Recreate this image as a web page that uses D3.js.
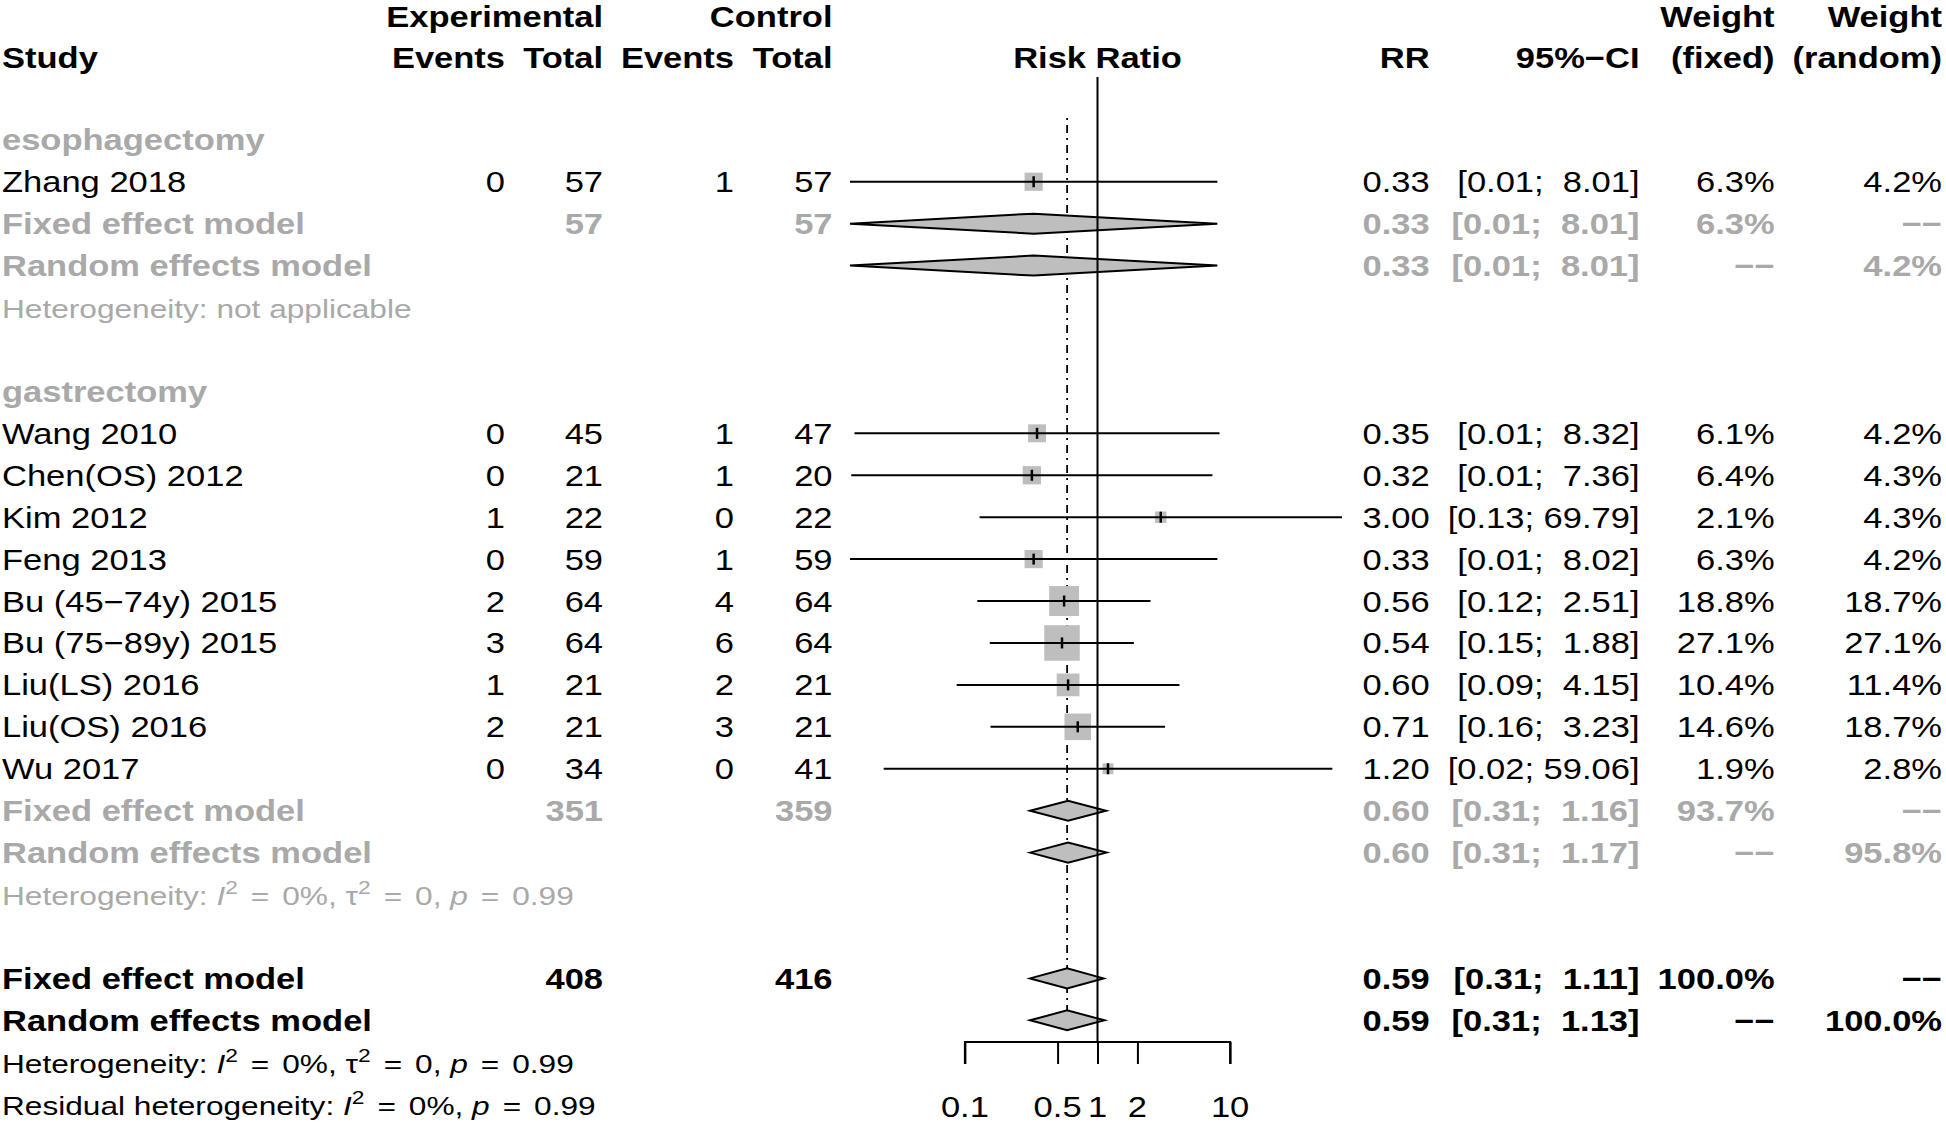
<!DOCTYPE html>
<html><head><meta charset="utf-8">
<script src="https://cdn.jsdelivr.net/npm/d3@7"></script>
<style>
html,body{margin:0;padding:0;background:#fff;}
svg text{font-family:"Liberation Sans",Arial,Helvetica,sans-serif;white-space:pre;}
</style></head>
<body>
<svg id="chart" width="1946" height="1127"></svg>
<script>
// ---------------- data ----------------
const subgroups = ["esophagectomy", "gastrectomy"];
const studyGroup = [0, 1, 1, 1, 1, 1, 1, 1, 1, 1];
const studies = ["Zhang 2018", "Wang 2010", "Chen(OS) 2012", "Kim 2012", "Feng 2013",
  "Bu (45\u221274y) 2015", "Bu (75\u221289y) 2015", "Liu(LS) 2016", "Liu(OS) 2016", "Wu 2017"];
const expEvents = [0, 0, 0, 1, 0, 2, 3, 1, 2, 0];
const expTotal = [57, 45, 21, 22, 59, 64, 64, 21, 21, 34];
const ctrlEvents = [1, 1, 1, 0, 1, 4, 6, 2, 3, 0];
const ctrlTotal = [57, 47, 20, 22, 59, 64, 64, 21, 21, 41];
const rr = [0.33, 0.35, 0.32, 3.00, 0.33, 0.56, 0.54, 0.60, 0.71, 1.20];
const ciLower = [0.0136, 0.0147, 0.0139, 0.129, 0.0136, 0.124, 0.154, 0.0867, 0.156, 0.0244];
const ciUpper = [8.01, 8.32, 7.36, 69.79, 8.02, 2.51, 1.88, 4.15, 3.23, 59.06];
const weightFixed = [6.3, 6.1, 6.4, 2.1, 6.3, 18.8, 27.1, 10.4, 14.6, 1.9];
const weightRandom = [4.2, 4.2, 4.3, 4.3, 4.2, 18.7, 27.1, 11.4, 18.7, 2.8];

// subgroup pooled results
const subExpTotal = [57, 351];
const subCtrlTotal = [57, 359];
const subFixedRR = [0.33, 0.60];
const subFixedLower = [0.0136, 0.31];
const subFixedUpper = [8.01, 1.16];
const subFixedWeight = [6.3, 93.7];
const subRandomRR = [0.33, 0.60];
const subRandomLower = [0.0136, 0.31];
const subRandomUpper = [8.01, 1.17];
const subRandomWeight = [4.2, 95.8];
const subHetI2 = [null, "0%"];
const subHetTau2 = [null, "0"];
const subHetP = [null, "0.99"];

// overall results
const overallExpTotal = 408;
const overallCtrlTotal = 416;
const overallFixed = [0.59, 0.31, 1.11];   // RR, lower, upper
const overallRandom = [0.59, 0.31, 1.13];
const overallHet = ["0%", "0", "0.99"];    // I2, tau2, p
const residualHet = ["0%", "0.99"];        // I2, p

const axisTicks = [0.1, 0.5, 1, 2, 10];
const axisTickLabels = ["0.1", "0.5", "1", "2", "10"];

// ---------------- layout ----------------
const W = 1946, H = 1127;
const FS = 29, FSHET = 29 * 11 / 12, SX = 1.19;
const GREY = "#A9A9A9", BOXGREY = "#BEBEBE";
const DASH = "\u2212\u2212";
const svg = d3.select("#chart");
svg.append("rect").attr("width", W).attr("height", H).attr("fill", "#fff");

const x = d3.scaleLog().domain([0.1, 10]).range([964.9, 1230.1]);
const yRow = d3.scaleLinear().domain([0, 23]).range([139.8, 139.8 + 41.93 * 23]);
const base = i => yRow(i) + 10.5;
const boxSize = d3.scaleSqrt().domain([0, d3.max(weightFixed)]).range([0, 33.5]);

const col = { study: 2, expE: 505, expT: 603, ctrlE: 734, ctrlT: 832.5,
  rr: 1429.6, ci: 1639.5, wf: 1774.6, wr: 1942 };

function T(xp, yp, content, o = {}) {
  const fs = o.fs || FS;
  const t = svg.append("text")
    .attr("transform", `translate(${xp},${yp}) scale(${o.sx || SX},1)`)
    .attr("text-anchor", o.anchor || "end")
    .attr("font-size", fs)
    .attr("font-weight", o.bold ? "bold" : "normal")
    .attr("fill", o.color || "#000");
  if (typeof content === "string") { t.text(content); return t; }
  const supFs = fs * 0.72, rise = fs * 0.42;
  content.forEach(seg => {
    const s = t.append("tspan").text(seg.t);
    if (seg.it) s.attr("font-style", "italic");
    let dy = 0;
    if (seg.sup) { s.attr("font-size", supFs); dy -= rise; }
    if (seg.down) dy += rise;
    if (dy) s.attr("dy", dy);
    if (seg.dx) s.attr("dx", seg.dx);
  });
  return t;
}
const f2 = v => v.toFixed(2);
const ciText = (lo, hi) => `[${f2(lo)}; ${f2(hi).padStart(5, " ")}]`;
const pct = v => v.toFixed(1) + "%";

// plotmath-like spacing around "="
const EQ = 3.5;
function hetSegments(label, i2, tau2, p) {
  const segs = [{ t: label }, { t: "I", it: true }, { t: "2", sup: true },
    { t: " =", down: true, dx: EQ }, { t: " " + i2 + ", ", dx: EQ }];
  if (tau2 !== null) {
    segs.push({ t: "\u03C4" }, { t: "2", sup: true },
      { t: " =", down: true, dx: EQ }, { t: " " + tau2 + ", ", dx: EQ });
  }
  segs.push({ t: "p", it: true }, { t: " =", dx: EQ }, { t: " " + p, dx: EQ });
  return segs;
}

// ---------------- header ----------------
const hb1 = base(-3) + 2, hb2 = base(-2) + 2;
T(col.expT, hb1, "Experimental", { bold: true });
T(col.ctrlT, hb1, "Control", { bold: true });
T(col.wf, hb1, "Weight", { bold: true });
T(col.wr, hb1, "Weight", { bold: true });
T(col.study, hb2, "Study", { bold: true, anchor: "start" });
T(col.expE, hb2, "Events", { bold: true });
T(col.expT, hb2, "Total", { bold: true });
T(col.ctrlE, hb2, "Events", { bold: true });
T(col.ctrlT, hb2, "Total", { bold: true });
T(x(1), hb2, "Risk Ratio", { bold: true, anchor: "middle" });
T(col.rr, hb2, "RR", { bold: true });
T(col.ci, hb2, "95%\u2212CI", { bold: true });
T(col.wf, hb2, "(fixed)", { bold: true });
T(col.wr, hb2, "(random)", { bold: true });

// ---------------- rows ----------------
const gPlot = svg.append("g");
// fixed-effect estimate line (drawn below marks)
gPlot.append("line")
  .attr("x1", x(overallFixed[0])).attr("x2", x(overallFixed[0]))
  .attr("y1", 118).attr("y2", yRow(21))
  .attr("stroke", "#000").attr("stroke-width", 1.8)
  .attr("stroke-dasharray", "2,5,8,5");
const gMarks = svg.append("g");

function diamond(i, est, lo, hi) {
  const yc = yRow(i);
  gMarks.append("path")
    .attr("d", `M${x(lo)},${yc}L${x(est)},${yc - 10}L${x(hi)},${yc}L${x(est)},${yc + 10}Z`)
    .attr("fill", BOXGREY).attr("stroke", "#000").attr("stroke-width", 2)
    .attr("stroke-linejoin", "miter");
}

let row = 0;
subgroups.forEach((sg, g) => {
  T(col.study, base(row), sg, { bold: true, color: GREY, anchor: "start" });
  row++;
  studies.forEach((s, k) => {
    if (studyGroup[k] !== g) return;
    const b = base(row), yc = yRow(row);
    T(col.study, b, s, { anchor: "start" });
    T(col.expE, b, String(expEvents[k]));
    T(col.expT, b, String(expTotal[k]));
    T(col.ctrlE, b, String(ctrlEvents[k]));
    T(col.ctrlT, b, String(ctrlTotal[k]));
    T(col.rr, b, f2(rr[k]));
    T(col.ci, b, ciText(ciLower[k], ciUpper[k]));
    T(col.wf, b, pct(weightFixed[k]));
    T(col.wr, b, pct(weightRandom[k]));
    const sz = boxSize(weightFixed[k]) + 2;
    gMarks.append("rect").attr("x", x(rr[k]) - sz / 2).attr("y", yc - sz / 2)
      .attr("width", sz).attr("height", sz).attr("fill", BOXGREY);
    gMarks.append("line").attr("x1", x(ciLower[k])).attr("x2", x(ciUpper[k]))
      .attr("y1", yc).attr("y2", yc).attr("stroke", "#000").attr("stroke-width", 2);
    gMarks.append("line").attr("x1", x(rr[k])).attr("x2", x(rr[k]))
      .attr("y1", yc - 5.5).attr("y2", yc + 5.5).attr("stroke", "#000").attr("stroke-width", 2.5);
    row++;
  });
  // fixed
  let b = base(row);
  T(col.study, b, "Fixed effect model", { bold: true, color: GREY, anchor: "start" });
  T(col.expT, b, String(subExpTotal[g]), { bold: true, color: GREY });
  T(col.ctrlT, b, String(subCtrlTotal[g]), { bold: true, color: GREY });
  T(col.rr, b, f2(subFixedRR[g]), { bold: true, color: GREY });
  T(col.ci, b, ciText(subFixedLower[g], subFixedUpper[g]), { bold: true, color: GREY });
  T(col.wf, b, pct(subFixedWeight[g]), { bold: true, color: GREY });
  T(col.wr, b, DASH, { bold: true, color: GREY });
  diamond(row, subFixedRR[g], subFixedLower[g], subFixedUpper[g]);
  row++;
  b = base(row);
  T(col.study, b, "Random effects model", { bold: true, color: GREY, anchor: "start" });
  T(col.rr, b, f2(subRandomRR[g]), { bold: true, color: GREY });
  T(col.ci, b, ciText(subRandomLower[g], subRandomUpper[g]), { bold: true, color: GREY });
  T(col.wf, b, DASH, { bold: true, color: GREY });
  T(col.wr, b, pct(subRandomWeight[g]), { bold: true, color: GREY });
  diamond(row, subRandomRR[g], subRandomLower[g], subRandomUpper[g]);
  row++;
  b = base(row);
  if (subHetI2[g] === null) {
    T(col.study, b, "Heterogeneity: not applicable", { color: GREY, anchor: "start", fs: FSHET });
  } else {
    T(col.study, b, hetSegments("Heterogeneity: ", subHetI2[g], subHetTau2[g], subHetP[g]),
      { color: GREY, anchor: "start", fs: FSHET });
  }
  row += 2;
});

// overall
let b = base(row);
T(col.study, b, "Fixed effect model", { bold: true, anchor: "start" });
T(col.expT, b, String(overallExpTotal), { bold: true });
T(col.ctrlT, b, String(overallCtrlTotal), { bold: true });
T(col.rr, b, f2(overallFixed[0]), { bold: true });
T(col.ci, b, ciText(overallFixed[1], overallFixed[2]), { bold: true });
T(col.wf, b, "100.0%", { bold: true });
T(col.wr, b, DASH, { bold: true });
diamond(row, overallFixed[0], overallFixed[1], overallFixed[2]);
row++;
b = base(row);
T(col.study, b, "Random effects model", { bold: true, anchor: "start" });
T(col.rr, b, f2(overallRandom[0]), { bold: true });
T(col.ci, b, ciText(overallRandom[1], overallRandom[2]), { bold: true });
T(col.wf, b, DASH, { bold: true });
T(col.wr, b, "100.0%", { bold: true });
diamond(row, overallRandom[0], overallRandom[1], overallRandom[2]);
row++;
b = base(row);
T(col.study, b, hetSegments("Heterogeneity: ", overallHet[0], overallHet[1], overallHet[2]),
  { anchor: "start", fs: FSHET });
row++;
b = base(row);
T(col.study, b, hetSegments("Residual heterogeneity: ", residualHet[0], null, residualHet[1]),
  { anchor: "start", fs: FSHET });

// solid line of no effect (on top)
const axisY = 1042;
svg.append("line").attr("x1", x(1)).attr("x2", x(1)).attr("y1", 77).attr("y2", axisY)
  .attr("stroke", "#000").attr("stroke-width", 2);

// axis
const axisG = svg.append("g").attr("transform", `translate(0,${axisY})`);
axisG.call(d3.axisBottom(x).tickValues(axisTicks).tickSize(22).tickFormat(() => ""));
axisG.select(".domain").attr("d", `M${x(0.1)},22V0H${x(10)}V22`).attr("stroke", "#000").attr("stroke-width", 2).attr("fill", "none");
axisG.selectAll(".tick line").attr("stroke", "#000").attr("stroke-width", 2);
axisG.selectAll(".tick text").remove();
axisTicks.forEach((v, k) => T(x(v), 1116.7, axisTickLabels[k], { anchor: "middle" }));
</script>
</body></html>
